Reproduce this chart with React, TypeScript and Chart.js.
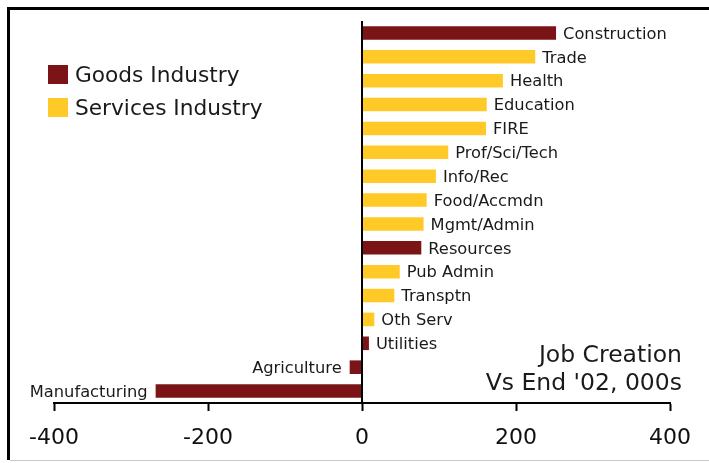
import { useEffect, useRef } from "react";
import { Chart, registerables } from "chart.js";

Chart.register(...registerables);

const categories = [
  "Construction", "Trade", "Health", "Education", "FIRE", "Prof/Sci/Tech",
  "Info/Rec", "Food/Accmdn", "Mgmt/Admin", "Resources", "Pub Admin",
  "Transptn", "Oth Serv", "Utilities", "Agriculture", "Manufacturing",
];
const jobChange = [252, 225, 183, 162, 161, 112, 96, 84, 80, 77, 49, 42, 16, 9, -16, -268];
const sector = [
  "Goods", "Services", "Services", "Services", "Services", "Services",
  "Services", "Services", "Services", "Goods", "Services",
  "Services", "Services", "Goods", "Goods", "Goods",
];
const seriesKeys = ["Goods", "Services"];
const seriesNames = ["Goods Industry", "Services Industry"];
const seriesColors = ["#7b1416", "#ffc928"];
const xTicks = [-400, -200, 0, 200, 400];
const noteLines = ["Job Creation", "Vs End '02, 000s"];

const FONT = "'DejaVu Sans', Verdana, sans-serif";

export default function App() {
  const ref = useRef<HTMLCanvasElement | null>(null);

  useEffect(() => {
    const canvas = ref.current;
    if (!canvas) return;

    const datasets = seriesKeys.map((key, i) => ({
      label: seriesNames[i],
      data: jobChange.map((v, j) => (sector[j] === key ? v : null)),
      backgroundColor: seriesColors[i],
      borderWidth: 0,
      grouped: false,
      barPercentage: 0.57,
      categoryPercentage: 1,
    }));

    const framePlugin = {
      id: "frame",
      beforeDraw(chart: any) {
        const c = chart.ctx;
        c.save();
        c.fillStyle = "#ffffff";
        c.fillRect(0, 0, chart.width, chart.height);
        c.restore();
      },
      afterDraw(chart: any) {
        const c = chart.ctx;
        c.save();
        c.fillStyle = "#000000";
        c.fillRect(7, 7, chart.width - 7, 3);
        c.fillRect(7, 7, 3, 453);
        c.fillStyle = "#c8c8c8";
        c.fillRect(10, 460, chart.width - 10, 1);
        c.restore();
      },
    };

    const labelPlugin = {
      id: "barLabels",
      afterDatasetsDraw(chart: any) {
        const c = chart.ctx;
        const xs = chart.scales.x;
        const area = chart.chartArea;
        c.save();
        // zero line
        const x0 = Math.round(xs.getPixelForValue(0));
        c.fillStyle = "#000";
        c.fillRect(x0 - 1, area.top, 2, area.bottom - area.top);
        // bar labels
        c.font = `16.3px ${FONT}`;
        c.fillStyle = "#1a1a1a";
        c.textBaseline = "alphabetic";
        chart.data.datasets.forEach((ds: any, di: number) => {
          const meta = chart.getDatasetMeta(di);
          meta.data.forEach((el: any, j: number) => {
            const v = ds.data[j];
            if (v === null || v === undefined) return;
            const y = el.y + 5.8;
            if (v >= 0) {
              c.textAlign = "left";
              c.fillText(categories[j], el.x + 7, y);
            } else {
              c.textAlign = "right";
              c.fillText(categories[j], el.x - 8, y);
            }
          });
        });
        // legend
        c.font = `21.7px ${FONT}`;
        c.textAlign = "left";
        seriesNames.forEach((name, i) => {
          const top = 65 + i * 33;
          c.fillStyle = seriesColors[i];
          c.fillRect(48, top, 20, 19);
          c.fillStyle = "#1a1a1a";
          c.fillText(name, 75, top + 17);
        });
        // note
        c.font = `23.5px ${FONT}`;
        c.textAlign = "right";
        c.fillStyle = "#1a1a1a";
        noteLines.forEach((line, i) => {
          c.fillText(line, 682, 362 + i * 28);
        });
        c.restore();
      },
    };

    const chart = new Chart(canvas, {
      type: "bar",
      data: { labels: categories, datasets: datasets as any },
      options: {
        indexAxis: "y",
        animation: false,
        responsive: false,
        maintainAspectRatio: false,
        layout: { padding: { left: 54, right: 39, top: 21, bottom: 0 } },
        plugins: {
          legend: { display: false },
          tooltip: { enabled: false },
        },
        scales: {
          x: {
            type: "linear",
            min: xTicks[0],
            max: xTicks[xTicks.length - 1],
            afterBuildTicks(scale: any) {
              scale.ticks = xTicks.map((v) => ({ value: v }));
            },
            afterFit(scale: any) {
              scale.height = 60;
            },
            grid: {
              drawOnChartArea: false,
              drawTicks: true,
              tickLength: 8,
              tickColor: "#000",
              tickWidth: 2,
            },
            border: { display: true, color: "#000", width: 2 },
            ticks: {
              color: "#111",
              font: { family: FONT, size: 22 },
              padding: 14,
              maxRotation: 0,
              autoSkip: false,
            },
          },
          y: {
            display: false,
            offset: true,
          },
        },
      },
      plugins: [framePlugin, labelPlugin],
    });

    return () => chart.destroy();
  }, []);

  return (
    <div style={{ position: "fixed", left: 0, top: 0, width: 709, height: 463, background: "#fff" }}>
      <canvas ref={ref} width={709} height={463} style={{ display: "block", width: 709, height: 463 }} />
    </div>
  );
}
